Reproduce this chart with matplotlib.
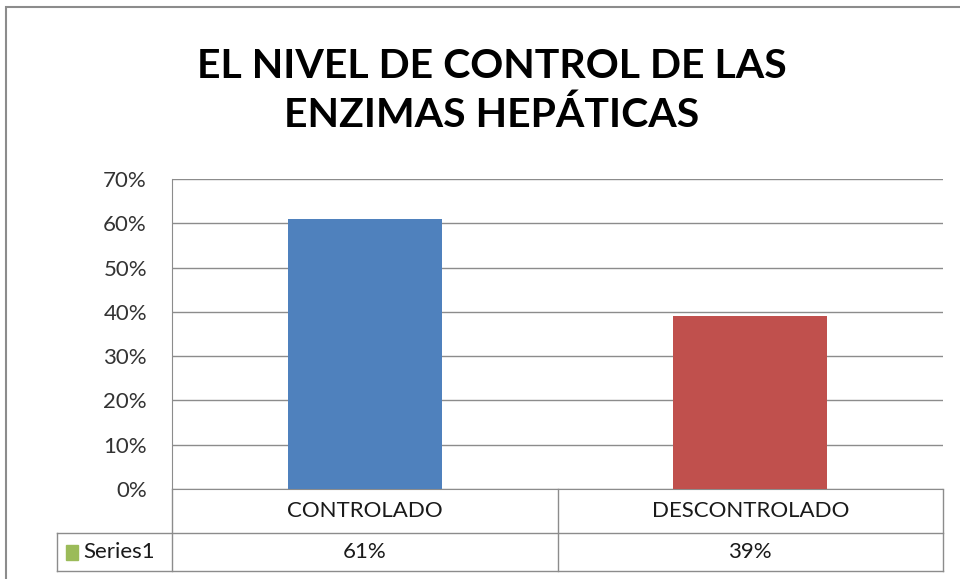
import matplotlib.pyplot as plt
from matplotlib.patches import Rectangle
from matplotlib.ticker import PercentFormatter

categories = ['CONTROLADO', 'DESCONTROLADO']
values = [0.61, 0.39]
series_name = 'Series1'
bar_colors = ['#4F81BD', '#C0504D']
legend_color = '#9BBB59'
title = 'EL NIVEL DE CONTROL DE LAS\nENZIMAS HEPÁTICAS'

plt.rcParams['font.family'] = ['Lato', 'DejaVu Sans']

W, H = 960, 579
fig = plt.figure(figsize=(W / 100, H / 100), dpi=100)

def fx(px):
    return px / W

def fy(py):
    return 1 - py / H

# outer chart border (continues past the right/bottom edge)
fig.patches.append(Rectangle((fx(6), fy(1000)), fx(2000), fy(7) - fy(1000),
                             transform=fig.transFigure, fill=False,
                             edgecolor='#8c8c8c', linewidth=1.5))

fig.text(fx(492), fy(91), title, ha='center', va='center',
         fontsize=29.5, fontweight='bold', linespacing=1.38)

grid_c = '#8c8c8c'
left, right, top, bottom = 172, 943, 179, 489
ax = fig.add_axes([fx(left), fy(bottom), fx(right - left), fy(top) - fy(bottom)])
x = range(len(categories))
ax.bar(x, values, width=0.4, color=bar_colors, zorder=3)
ax.set_xlim(-0.5, len(categories) - 0.5)
ax.set_ylim(0, 0.7)
ax.set_yticks([i / 10 for i in range(8)])
ax.yaxis.set_major_formatter(PercentFormatter(1.0, decimals=0))
ax.tick_params(axis='y', length=0, labelsize=16, pad=18, colors='#333333')
ax.set_xticks([])
ax.grid(axis='y', color=grid_c, linewidth=1, zorder=0)
for s in ['top', 'right']:
    ax.spines[s].set_visible(False)
ax.spines['left'].set_color(grid_c)
ax.spines['bottom'].set_color(grid_c)

# data table under the plot
tab = fig.add_axes([0, 0, 1, 1], facecolor='none')
tab.set_xlim(0, W)
tab.set_ylim(H, 0)
tab.axis('off')
row1, row2, row_end = 489, 533, 571
mid = (left + right) / 2
lw = 1
tab.plot([left, left], [row1, row_end], color=grid_c, lw=lw)
tab.plot([mid, mid], [row1, row_end], color=grid_c, lw=lw)
tab.plot([right, right], [row1, row_end], color=grid_c, lw=lw)
tab.plot([57, 57], [row2, row_end], color=grid_c, lw=lw)
tab.plot([57, right], [row2, row2], color=grid_c, lw=lw)
tab.plot([57, right], [row_end, row_end], color=grid_c, lw=lw)

col_w = (right - left) / len(categories)
for i, (cat, v) in enumerate(zip(categories, values)):
    cx = left + col_w * (i + 0.5)
    tab.text(cx, (row1 + row2) / 2, cat, ha='center', va='center',
             fontsize=16, color='#1a1a1a')
    tab.text(cx, (row2 + row_end) / 2, f'{v:.0%}', ha='center', va='center',
             fontsize=16, color='#1a1a1a')
tab.add_patch(Rectangle((66, 545), 12, 15, color=legend_color))
tab.text(83, (row2 + row_end) / 2, series_name, ha='left', va='center',
         fontsize=16, color='#1a1a1a')

fig.savefig('out.png', dpi=100)
